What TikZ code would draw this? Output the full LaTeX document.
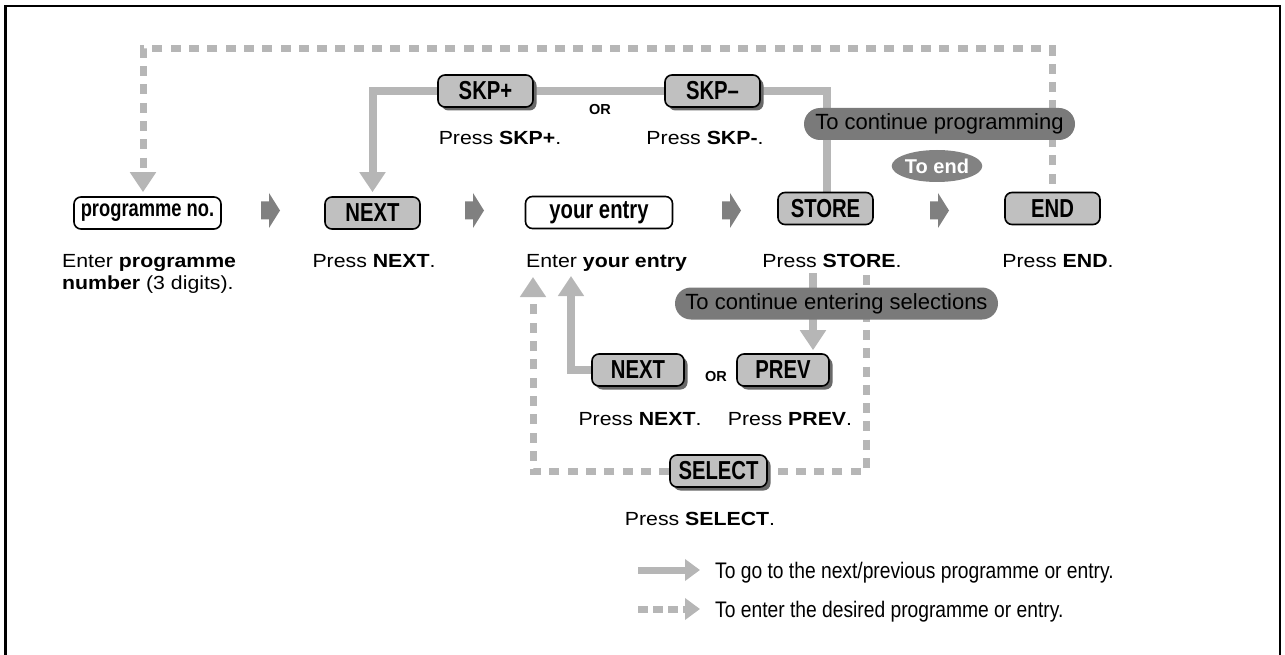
\documentclass[tikz,border=0pt]{standalone}
\usepackage{fontspec}
\setmainfont{Liberation Sans}
\newfontfamily\capfont[FakeStretch=1.12]{Liberation Sans}
\newfontfamily\keyfont[FakeStretch=0.78]{Liberation Sans}
\newfontfamily\legfont[FakeStretch=0.855]{Liberation Sans}
\usetikzlibrary{arrows.meta,shadows,shapes.geometric,calc}
\definecolor{keyfill}{RGB}{192,192,192}
\definecolor{lineg}{RGB}{182,182,182}
\definecolor{pillg}{RGB}{122,122,122}
\definecolor{endg}{RGB}{130,130,130}
\definecolor{flowg}{RGB}{128,128,128}
\definecolor{shadowg}{RGB}{105,105,105}
\pgfdeclarelayer{bg}
\pgfsetlayers{bg,main}
\tikzset{
  keybox/.style={draw=black, line width=1.6pt, rounded corners=7pt, fill=keyfill,
    minimum width=95pt, minimum height=32pt, inner sep=0pt,
    font=\keyfont\bfseries\fontsize{26}{26}\selectfont},
  whitekey/.style={keybox, fill=white, minimum width=147pt},
  shkey/.style={keybox, drop shadow={shadow xshift=3.5pt, shadow yshift=-3.5pt, fill=shadowg, opacity=1}},
  capt/.style={font=\capfont\fontsize{19}{22}\selectfont, inner sep=0pt, anchor=base},
  ortext/.style={font=\bfseries\fontsize{14.5}{14.5}\selectfont, inner sep=0pt},
  pill/.style={fill=pillg, rounded corners=16pt, minimum height=32pt, inner sep=0pt,
    font=\fontsize{22}{22}\selectfont},
  endpill/.style={ellipse, fill=endg, minimum width=84pt, minimum height=32pt, inner sep=0pt,
    text=white, font=\bfseries\fontsize{20}{20}\selectfont},
  legtext/.style={font=\legfont\fontsize{22.5}{22.5}\selectfont, inner sep=0pt, anchor=base west},
  conn/.style={draw=lineg, line width=8pt},
  dconn/.style={draw=lineg, line width=7pt, dash pattern=on 10pt off 8.3pt},
  bigtip/.style={-{Triangle[width=25pt,length=20pt]}},
  legtip/.style={-{Triangle[width=21pt,length=15pt]}},
  flowarr/.pic={\fill[flowg] (0,-9) -- (8,-9) -- (8,-17.5) -- (19,0) -- (8,17.5) -- (8,9) -- (0,9) -- cycle;}
}
\begin{document}
\begin{tikzpicture}[x=1pt,y=-1pt]
\useasboundingbox (0,0) rectangle (1285,655);
\draw[line width=2.6pt] (5.5,660) -- (5.5,6) -- (1280,6) -- (1280,660);

% main row keys
\node[whitekey, font=\keyfont\bfseries\fontsize{23.5}{23.5}\selectfont] (prog) at (147.5,213) {programme no.};
\node[keybox] (next) at (372.5,213) {NEXT};
\node[whitekey] (entry) at (599,212.5) {your entry};
\node[keybox] (store) at (825.5,208.5) {STORE};
\node[keybox] (end) at (1052.5,208.5) {END};
% skip keys
\node[shkey] (skpp) at (485.5,91) {SKP+};
\node[shkey] (skpm) at (712.5,91) {SKP–};
\node[ortext] (or1) at (600,110) {OR};
% lower keys
\node[shkey, minimum width=92pt] (lnext) at (638,370) {NEXT};
\node[ortext] (or2) at (716,377) {OR};
\node[shkey, minimum width=92pt] (prev) at (783,370) {PREV};
\node[shkey, minimum width=97pt] (select) at (718.5,471) {SELECT};

% flow arrows
\pic at (261,210.5) {flowarr};
\pic at (465,210.5) {flowarr};
\pic at (722,210.5) {flowarr};
\pic at (930,210.5) {flowarr};

% captions
\node[capt, anchor=base west, align=left] (cprog) at (62,289) {Enter \textbf{programme}\\\textbf{number} (3 digits).};
\node[capt] (cnext) at (374,267) {Press \textbf{NEXT}.};
\node[capt, anchor=base west] (centry) at (526,267) {Enter \textbf{your entry}};
\node[capt] (cstore) at (832,267) {Press \textbf{STORE}.};
\node[capt] (cend) at (1058,267) {Press \textbf{END}.};
\node[capt] (cskpp) at (500,145) {Press \textbf{SKP+}.};
\node[capt] (cskpm) at (705,145) {Press \textbf{SKP-}.};
\node[capt] (clnext) at (640,425) {Press \textbf{NEXT}.};
\node[capt] (cprev) at (790,425) {Press \textbf{PREV}.};
\node[capt] (cselect) at (700,525) {Press \textbf{SELECT}.};

% coordinates for free ends
\coordinate (topR) at (1052.5,49);
\coordinate (topL) at (143,49);
\coordinate (s1) at (813,273);
\coordinate (d1) at (866,275);
\coordinate (d2) at (533,277);
\coordinate (a2) at (571,276);

\begin{pgfonlayer}{bg}
  \draw[dconn, bigtip, shorten <=8pt, shorten >=4pt] (end.north) -- (topR) -- (topL) -- (topL |- prog.north);
  \draw[conn] ([xshift=1.5pt]store.north) |- (skpm.east);
  \draw[conn] (skpm.west) -- (skpp.east);
  \draw[conn, bigtip, shorten >=4pt] (skpp.west) -| (next.north);
  \draw[conn, bigtip, shorten >=3pt] (s1) -- (s1 |- prev.north);
  \draw[dconn] (d1) |- (select.east);
  \draw[dconn, bigtip] (select.west) -| (d2);
  \draw[conn, bigtip] (lnext.west) -| (a2);
\end{pgfonlayer}

% pills
\node[pill, minimum width=271pt] (pprog) at (939.5,124) {To continue programming};
\node[endpill] (pend) at (937,166) {To end};
\node[pill, minimum width=323pt] (psel) at (836.5,303.5) {To continue entering selections};

% legend
\coordinate (l1a) at (638,570);
\coordinate (l1b) at (700,570);
\coordinate (l2a) at (638,609);
\coordinate (l2b) at (700,609);
\draw[draw=lineg, line width=7pt, legtip] (l1a) -- (l1b);
\draw[draw=lineg, line width=7pt, dash pattern=on 10pt off 5pt, legtip] (l2a) -- (l2b);
\node[legtext] (t1) at (715,578) {To go to the next/previous programme or entry.};
\node[legtext] (t2) at (715,617) {To enter the desired programme or entry.};
\end{tikzpicture}
\end{document}
